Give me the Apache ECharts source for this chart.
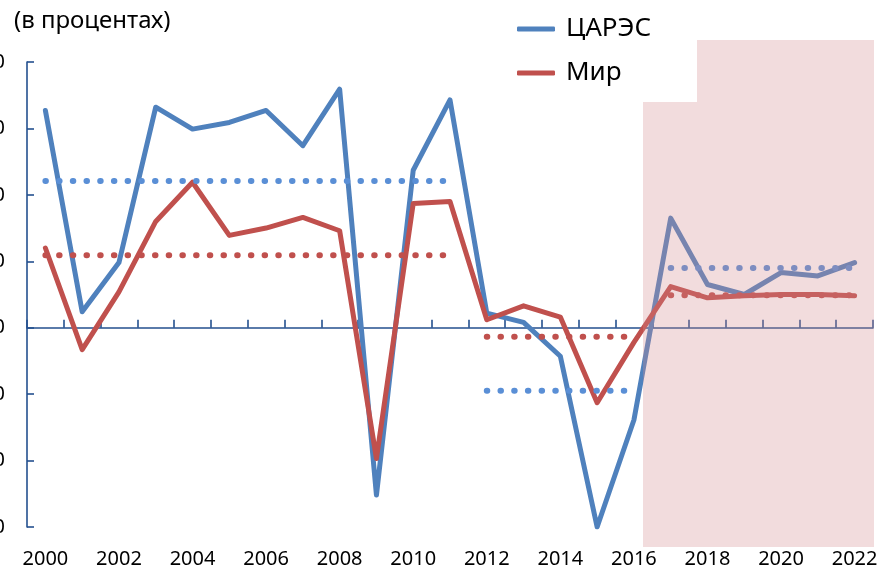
<!DOCTYPE html>
<html>
<head>
<meta charset="utf-8">
<script src="https://cdn.jsdelivr.net/npm/echarts@6/dist/echarts.min.js"></script>
<style>
html,body{margin:0;padding:0;background:#fff;}
#chart{width:879px;height:574px;}
</style>
</head>
<body>
<div id="chart"></div>
<script>
const years = ['2000','2001','2002','2003','2004','2005','2006','2007','2008','2009','2010','2011','2012','2013','2014','2015','2016','2017','2018','2019','2020','2021','2022'];
const carec = [32.7, 2.4, 9.8, 33.2, 29.9, 30.9, 32.7, 27.4, 35.9, -25.2, 23.7, 34.3, 2.2, 0.8, -4.3, -30.0, -13.9, 16.5, 6.5, 5.0, 8.3, 7.8, 9.8];
const world = [12.0, -3.3, 5.4, 16.0, 21.9, 13.9, 15.0, 16.6, 14.6, -19.7, 18.7, 19.0, 1.2, 3.3, 1.6, -11.3, -2.2, 6.2, 4.5, 4.8, 5.0, 5.0, 4.8];
const avgPeriods = [['2000','2011'], ['2012','2016'], ['2017','2022']];
const carecAvg = [22.1, -9.5, 9.0];
const worldAvg = [10.9, -1.35, 4.9];
const yTicks = {min: -30, max: 40, interval: 10};
const seriesNames = ['ЦАРЭС', 'Мир'];

const chart = echarts.init(document.getElementById('chart'));
const FONT = '"Noto Sans", "DejaVu Sans", sans-serif';
const AXIS = '#24508f';
const BLUE = '#4F81BD', RED = '#C0504D', BLUE_DOT = '#5A8FD6', RED_DOT = '#C0504D';

function avgSeries(vals, color) {
  return avgPeriods.map((p, i) => ({
    type: 'line', xAxisIndex: 0, yAxisIndex: 0, silent: true,
    showSymbol: false, symbol: 'none', z: 4,
    data: [[p[0], vals[i]], [p[1], vals[i]]],
    lineStyle: {color: color, width: 6, type: [0.5, 13.2], cap: 'round'}
  }));
}

const option = {
  animation: false,
  backgroundColor: '#fff',
  textStyle: {fontFamily: FONT},
  title: {
    text: '(в процентах)', left: 9, top: 4,
    textStyle: {fontFamily: FONT, fontSize: 24, fontWeight: 'normal', color: '#000'}
  },
  legend: {
    data: seriesNames, orient: 'vertical', left: 512, top: 11,
    itemWidth: 38, itemHeight: 5, itemGap: 18, icon: 'roundRect',
    textStyle: {fontFamily: FONT, fontSize: 26, color: '#000', lineHeight: 26, padding: [0,0,0,6]}
  },
  grid: {left: 27, right: 6, top: 62, bottom: 47, containLabel: false, outerBoundsMode: 'none'},
  xAxis: [{
    type: 'category', data: years, boundaryGap: true,
    axisLine: {onZero: true, lineStyle: {color: AXIS, width: 1.6}},
    axisTick: {show: true, inside: true, length: 8, lineStyle: {color: AXIS, width: 1.6}},
    axisLabel: {show: false}, splitLine: {show: false}
  }, {
    type: 'category', data: years, boundaryGap: true, position: 'bottom',
    axisLine: {show: false, onZero: false}, axisTick: {show: false},
    axisLabel: {show: true, interval: 1, margin: 22, fontFamily: FONT, fontSize: 20, color: '#000'},
    splitLine: {show: false}
  }],
  yAxis: {
    type: 'value', min: yTicks.min, max: yTicks.max, interval: yTicks.interval,
    axisLine: {show: true, lineStyle: {color: AXIS, width: 1.6}},
    axisTick: {show: true, inside: true, length: 7, lineStyle: {color: AXIS, width: 1.6}},
    axisLabel: {margin: 22, fontFamily: FONT, fontSize: 20, color: '#000'},
    splitLine: {show: false}
  },
  series: [
    {name: seriesNames[0], type: 'line', data: carec, showSymbol: false, symbol: 'none', z: 3,
     color: BLUE, lineStyle: {color: BLUE, width: 5, join: 'round', cap: 'round'}},
    {name: seriesNames[1], type: 'line', data: world, showSymbol: false, symbol: 'none', z: 3,
     color: RED, lineStyle: {color: RED, width: 5, join: 'round', cap: 'round'}},
    ...avgSeries(carecAvg, BLUE_DOT),
    ...avgSeries(worldAvg, RED_DOT)
  ],
  graphic: [
    {type: 'rect', z: 100, silent: true, shape: {x: 643, y: 102, width: 231, height: 445},
     style: {fill: 'rgba(212,138,142,0.3)'}},
    {type: 'rect', z: 100, silent: true, shape: {x: 697, y: 40, width: 177, height: 62},
     style: {fill: 'rgba(212,138,142,0.3)'}}
  ]
};
chart.setOption(option);
</script>
</body>
</html>
